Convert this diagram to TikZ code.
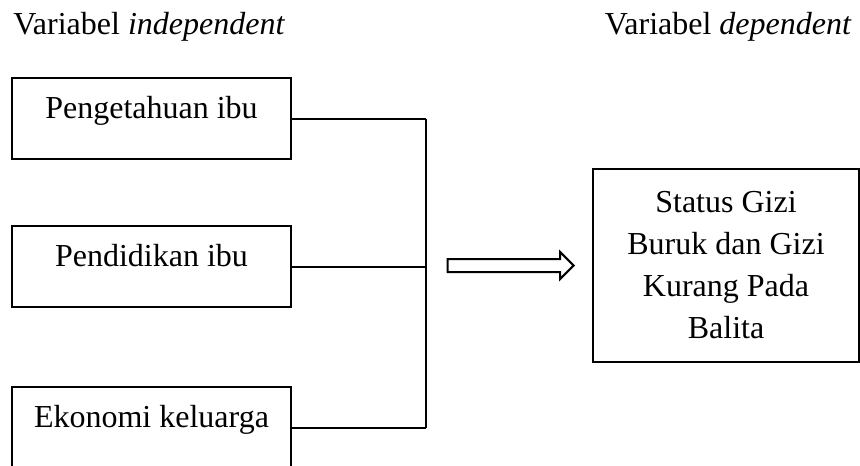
\documentclass[tikz,border=0pt]{standalone}
\usepackage{fontspec}
\setmainfont{Liberation Serif}
\usetikzlibrary{shapes,arrows}
\usetikzlibrary{positioning}
\tikzset{auto, minimum size=0pt, font=\fontsize{16}{21}\selectfont}
\tikzstyle{varbox} = [draw, line width=1pt, rectangle, minimum width=139.5pt, inner sep=0pt, text height=20.25pt, text depth=20.25pt, text centered]
\tikzstyle{hasil} = [draw, line width=1pt, rectangle, minimum width=133pt, minimum height=96.5pt, inner sep=0pt, align=center]
\tikzstyle{bigarrow} = [draw, line width=1pt, single arrow, single arrow head extend=3.5pt, minimum height=63pt, text height=2.75pt, text depth=2.75pt, text width=0pt, inner sep=0pt]
\tikzstyle{judul} = [inner sep=0pt]
\tikzstyle{bus} = [coordinate]

\begin{document}
\begin{tikzpicture}[x=0.5pt, y=-0.5pt]
    \useasboundingbox (0,0) rectangle (860,465);
    \clip (0,0) rectangle (860,465);
    \node [judul, anchor=base west] (judul_x) at (13,35) {Variabel \textit{independent}};
    \node [judul, anchor=base east] (judul_y) at (852,35) {Variabel \textit{dependent}};
    \node [varbox, anchor=north west] (peng) at (11,77) {Pengetahuan ibu};
    \node [varbox, below=32.5pt of peng] (pend) {Pendidikan ibu};
    \node [varbox, below=39pt of pend, text depth=30pt] (eko) {Ekonomi keluarga};
    \node [hasil] (status) at (726,265.5) {Status Gizi\\Buruk dan Gizi\\Kurang Pada\\Balita};
    \node [bigarrow, left=8.5pt of status] (panah) {};
    \node [bus, right=67pt of peng.base east] (bus_a) {};
    \node [bus, right=67pt of eko.base east] (bus_c) {};

    \draw [line width=1pt] (peng.base east) -- (bus_a);
    \draw [line width=1pt] (pend.base east) -- (pend.base east -| bus_a);
    \draw [line width=1pt] (eko.base east) -- (bus_c);
    \draw [line width=1.3pt] (bus_a) -- (bus_c);
\end{tikzpicture}
\end{document}
